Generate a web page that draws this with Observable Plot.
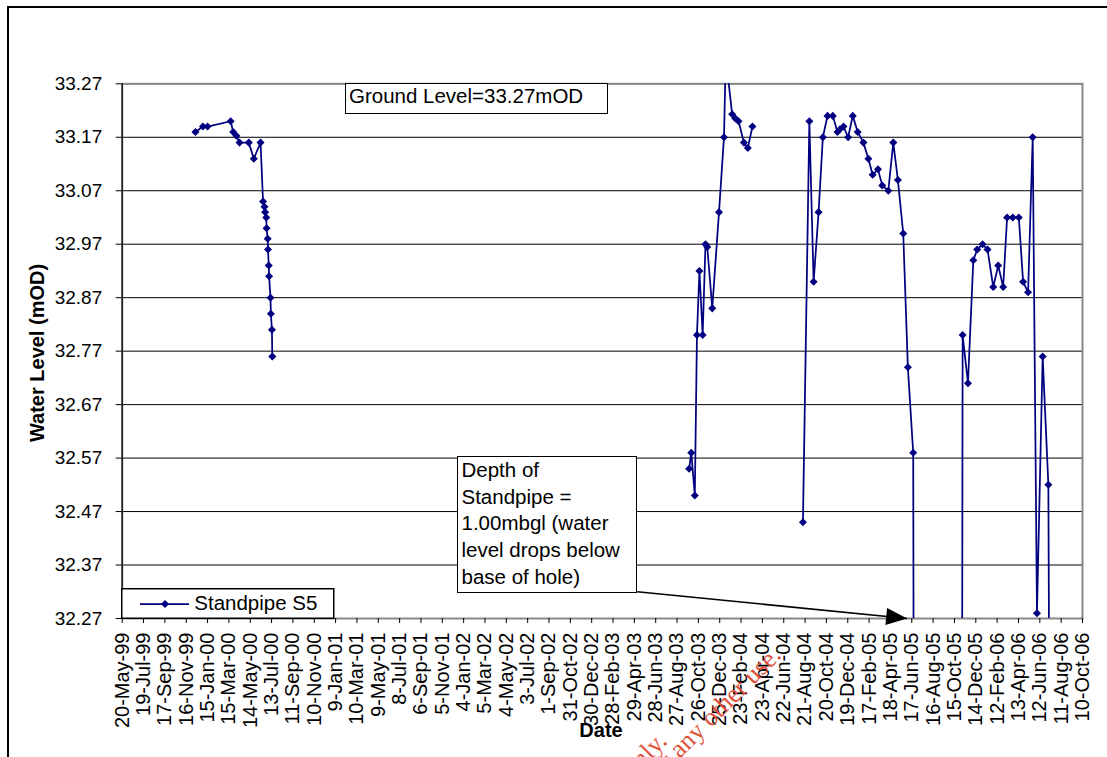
<!DOCTYPE html>
<html><head><meta charset="utf-8">
<script src="https://cdn.jsdelivr.net/npm/d3@7"></script>
<script src="https://cdn.jsdelivr.net/npm/@observablehq/plot@0.6"></script>
<style>
html,body{margin:0;padding:0;background:#fff;overflow:hidden}
#wrap{position:relative;width:1107px;height:757px;overflow:hidden;font-family:"Liberation Sans",Arial,sans-serif;color:#000}
#chart{position:absolute;left:0;top:0}
.box{position:absolute;background:#fff;border:1.5px solid #000;box-sizing:border-box;font-size:20.5px;white-space:nowrap}
.lbl{position:absolute;font-weight:bold;font-size:20px;line-height:20px;white-space:nowrap;transform:translate(-50%,-50%)}
#frame{position:absolute;left:7px;top:6px;width:1300px;height:1000px;border:2.5px solid #000;pointer-events:none}
.wm{position:absolute;transform-origin:0 0;transform:rotate(-45deg) translate(-100%,-22.8px);font-family:"Liberation Serif","Times New Roman",serif;font-size:26px;line-height:28px;color:#e0503a;white-space:nowrap;pointer-events:none}
</style></head>
<body>
<div id="wrap">
  <div id="chart"></div>
  <div class="box" style="left:345px;top:83px;width:263px;height:31px;padding-left:3px;line-height:23px;">Ground Level=33.27mOD</div>
  <div class="box" style="left:457px;top:456px;width:180px;height:137px;padding-left:3.5px;line-height:26.7px;">Depth of<br>Standpipe =<br>1.00mbgl (water<br>level drops below<br>base of hole)</div>
  <svg id="legend" style="position:absolute;left:121px;top:588px" width="214" height="31">
    <rect x="0.75" y="0.75" width="212" height="29.5" fill="#fff" stroke="#000" stroke-width="1.5"></rect>
    <line x1="19" x2="68" y1="16" y2="16" stroke="#000080" stroke-width="1.75"></line>
    <path d="M44,12L48,16L44,20L40,16Z" fill="#000080"></path>
    <text x="73.3" y="22" font-family="Liberation Sans, Arial, sans-serif" font-size="20.5" fill="#000">Standpipe S5</text>
  </svg>
  <div class="lbl" style="left:37px;top:353px;transform:translate(-50%,-50%) rotate(-90deg);">Water Level (mOD)</div>
  <div class="lbl" style="left:601px;top:730px;">Date</div>
  <div class="wm" style="left:669px;top:743px;">For inspection purposes only.</div>
  <div class="wm" style="left:783px;top:657px;">Consent of copyright owner required for any other use.</div>
  <div id="frame"></div>
</div>
<script>
// ---- data ----
const tickLabels = ["20-May-99","19-Jul-99","17-Sep-99","16-Nov-99","15-Jan-00","15-Mar-00","14-May-00","13-Jul-00","11-Sep-00","10-Nov-00","9-Jan-01","10-Mar-01","9-May-01","8-Jul-01","6-Sep-01","5-Nov-01","4-Jan-02","5-Mar-02","4-May-02","3-Jul-02","1-Sep-02","31-Oct-02","30-Dec-02","28-Feb-03","29-Apr-03","28-Jun-03","27-Aug-03","26-Oct-03","25-Dec-03","23-Feb-04","23-Apr-04","22-Jun-04","21-Aug-04","20-Oct-04","19-Dec-04","17-Feb-05","18-Apr-05","17-Jun-05","16-Aug-05","15-Oct-05","14-Dec-05","12-Feb-06","13-Apr-06","12-Jun-06","11-Aug-06","10-Oct-06"];
const yTicks = [32.27,32.37,32.47,32.57,32.67,32.77,32.87,32.97,33.07,33.17,33.27];

// null entries = breaks in the record (no readings)
const dates = [
"12-Dec-99","2-Jan-00","15-Jan-00","20-Mar-00","27-Mar-00","5-Apr-00","14-Apr-00","10-May-00","24-May-00","12-Jun-00","19-Jun-00","23-Jun-00","25-Jun-00","28-Jun-00","29-Jun-00","2-Jul-00","3-Jul-00","5-Jul-00","6-Jul-00","10-Jul-00","11-Jul-00","14-Jul-00","15-Jul-00",
null,
"30-Sep-03","6-Oct-03","16-Oct-03","22-Oct-03","29-Oct-03","7-Nov-03","15-Nov-03","20-Nov-03","4-Dec-03","23-Dec-03","6-Jan-04","11-Jan-04","29-Jan-04","7-Feb-04","16-Feb-04","2-Mar-04","13-Mar-04","26-Mar-04",
null,
"15-Aug-04","2-Sep-04","14-Sep-04","28-Sep-04","10-Oct-04","23-Oct-04","7-Nov-04","20-Nov-04","27-Nov-04","7-Dec-04","20-Dec-04","2-Jan-05","16-Jan-05","1-Feb-05","15-Feb-05","27-Feb-05","14-Mar-05","26-Mar-05","12-Apr-05","26-Apr-05","9-May-05","24-May-05","6-Jun-05","21-Jun-05",
"23-Jun-05","5-Nov-05",
"7-Nov-05","22-Nov-05","7-Dec-05","18-Dec-05","2-Jan-06","16-Jan-06","1-Feb-06","15-Feb-06","1-Mar-06","12-Mar-06","28-Mar-06","14-Apr-06","26-Apr-06","10-May-06","23-May-06","4-Jun-06","20-Jun-06","6-Jul-06",
"10-Jul-06"
];
const levels = [
33.18,33.19,33.19,33.20,33.18,33.173,33.16,33.16,33.13,33.16,33.05,33.04,33.03,33.02,33.00,32.98,32.96,32.93,32.91,32.87,32.84,32.81,32.76,
null,
32.55,32.58,32.50,32.80,32.92,32.80,32.97,32.965,32.85,33.03,33.17,33.32,33.213,33.205,33.20,33.16,33.15,33.19,
null,
32.45,33.20,32.90,33.03,33.17,33.21,33.21,33.18,33.185,33.19,33.17,33.21,33.18,33.16,33.13,33.10,33.11,33.08,33.07,33.16,33.09,32.99,32.74,32.58,
31.90,31.90,
32.80,32.71,32.94,32.96,32.97,32.96,32.89,32.93,32.89,33.02,33.02,33.02,32.90,32.88,33.17,32.28,32.76,32.52,
31.90
];
// annotation arrow (from box corner to base of standpipe)
const arrowFrom = {date:"7-May-03", level:32.32};
const arrowTo = {date:"4-Jun-05", level:32.27};

// ---- build ----
const parse = d3.utcParse("%d-%b-%y");
const fmt = d3.utcFormat("%-d-%b-%y");
const tickDates = tickLabels.map(parse);
const data = dates.map((d,i)=>({date: d ? parse(d) : null, level: levels[i]}));
const arrow = [{x1: parse(arrowFrom.date), y1: arrowFrom.level, x2: parse(arrowTo.date), y2: arrowTo.level}];

const diamond = {draw(ctx, size){const h=Math.sqrt(size/2); ctx.moveTo(0,-h); ctx.lineTo(h,0); ctx.lineTo(0,h); ctx.lineTo(-h,0); ctx.closePath();}};
const ang = 5.6*Math.PI/180, hl = 21, hw = 8.5;
const arrowHead = {draw(ctx){const c=Math.cos(ang), s=Math.sin(ang); const bx=-hl*c, by=-hl*s;
  ctx.moveTo(0,0); ctx.lineTo(bx - s*hw, by + c*hw); ctx.lineTo(bx + s*hw, by - c*hw); ctx.closePath();}};

const chart = Plot.plot({
  width: 1107, height: 757,
  marginLeft: 121.7, marginRight: 25, marginTop: 83.3, marginBottom: 139,
  x: {type: "utc", domain: [tickDates[0], tickDates[tickDates.length-1]]},
  y: {domain: [32.27, 33.27]},
  style: {fontFamily: "Liberation Sans, Arial, sans-serif", fontSize: "19px", color: "#000", background: "transparent", overflow: "visible"},
  marks: [
    Plot.ruleY(yTicks, {stroke: "#000", strokeWidth: 1}),
    Plot.frame({stroke: "#888", strokeWidth: 2}),
    Plot.ruleX([tickDates[0]], {stroke: "#000", strokeWidth: 1.2}),
    Plot.axisY(yTicks, {tickSize: 6, tickPadding: 14, tickFormat: d => d.toFixed(2), fontSize: 19, label: null}),
    Plot.axisX(tickDates, {tickSize: 5, tickPadding: 9, tickRotate: -90, tickFormat: fmt, fontSize: 20, label: null}),
    Plot.line(data, {x: "date", y: "level", stroke: "#000080", strokeWidth: 1.75, clip: true}),
    Plot.dot(data, {x: "date", y: "level", symbol: diamond, r: 3.2, fill: "#000080", stroke: null, clip: true}),
    Plot.link(arrow, {x1: "x1", y1: "y1", x2: "x2", y2: "y2", stroke: "#000", strokeWidth: 1.5}),
    Plot.dot(arrow, {x: "x2", y: "y2", symbol: arrowHead, r: 5, fill: "#000", stroke: null})
  ]
});
document.getElementById("chart").appendChild(chart);
</script>
</body></html>
